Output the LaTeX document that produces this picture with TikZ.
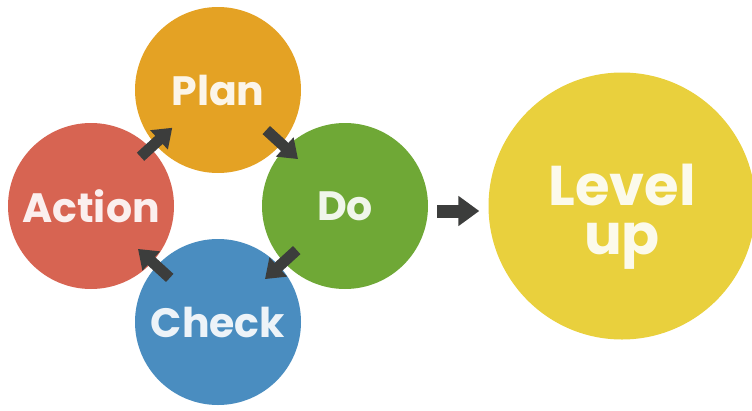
\documentclass[tikz,border=0pt]{standalone}
\usepackage{fontspec}
\setmainfont{Poppins}
\usepackage{tikz}
\usetikzlibrary{arrows.meta,calc}
\definecolor{plancol}{HTML}{E4A224}
\definecolor{docol}{HTML}{6FA836}
\definecolor{checkcol}{HTML}{4A8DC0}
\definecolor{actcol}{HTML}{D76452}
\definecolor{lvlcol}{HTML}{E9D03D}
\definecolor{arrcol}{HTML}{3C3D3C}

\begin{document}
\begin{tikzpicture}[x=1pt,y=-1pt,
    disc/.style={circle,minimum size=166pt,inner sep=0pt,text=white,text opacity=0.9,font=\fontsize{41}{48}\selectfont\bfseries},
    blockarrow/.style={draw=arrcol,line width=11pt,-{Triangle[width=25pt,length=18pt]}}]
            \useasboundingbox (0,0) rectangle (752,410);
            \clip (0,0) rectangle (752,410);

            \node[disc,fill=plancol] (plan) at (218,90) {Plan};
            \node[disc,fill=docol] (do) at (345,206) {Do};
            \node[disc,fill=checkcol] (check) at (218,322) {Check};
            \node[disc,fill=actcol] (action) at (91,206) {Action};
            \node[disc,fill=lvlcol,minimum size=267pt] (level) at (622,206) {};
            \node[text=white,text opacity=0.9,align=center,font=\fontsize{56}{49}\selectfont\bfseries] (leveltxt) at ($(level)+(0,11)$) {Level\\up};

            \draw[blockarrow] ($(plan)!0.38!(do)+(0,-4)$) to ($(plan)!0.63!(do)+(0,-4)$);
            \draw[blockarrow] ($(do)!0.38!(check)$) to ($(do)!0.63!(check)$);
            \draw[blockarrow] ($(check)!0.38!(action)$) to ($(check)!0.63!(action)$);
            \draw[blockarrow] ($(action)!0.39!(plan)+(0,-4)$) to ($(action)!0.64!(plan)+(0,-4)$);
            \draw[blockarrow,line width=13pt,-{Triangle[width=29pt,length=21pt]}] ($(do.east)+(9,5)$) to ($(level.west)+(-9,5)$);
\end{tikzpicture}
\end{document}
